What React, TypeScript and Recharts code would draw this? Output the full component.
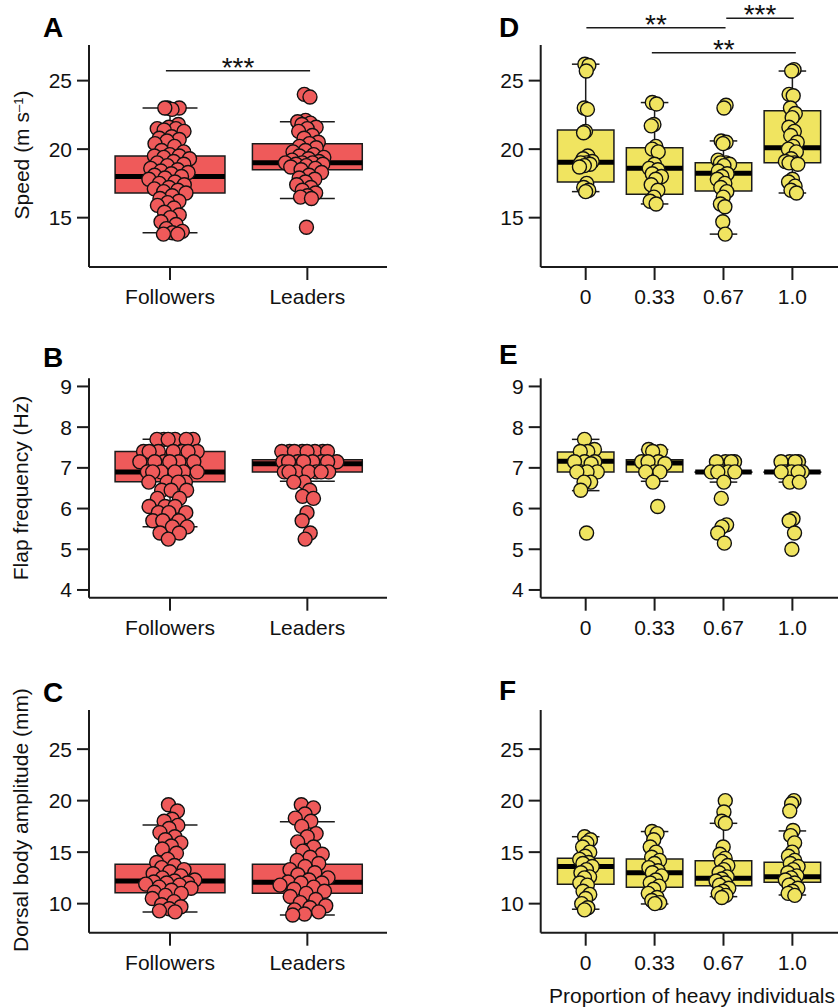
import React from "react";
import {
  ComposedChart,
  XAxis,
  YAxis,
  Scatter,
  ReferenceArea,
  ReferenceLine,
} from "recharts";

const FONT = "'Liberation Sans', Arial, Helvetica, sans-serif";
const RED = "#EF5A5A";
const YELLOW = "#F0E460";
const INK = "#1b1b1b";

// categories
const roleCats = ["Followers", "Leaders"];
const heavyCats = ["0", "0.33", "0.67", "1.0"];

// tick values
const speedTicks = [15, 20, 25];
const flapTicks = [4, 5, 6, 7, 8, 9];
const ampTicks = [10, 15, 20, 25];

// speed (m s-1), panel A
const speedFollowers = [
  23.0, 23.0, 22.9, 23.0, 21.8, 21.6, 21.5, 21.5, 21.4, 21.3, 20.9, 20.8, 20.7,
  20.6, 20.4, 20.2, 19.9, 19.8, 19.6, 19.5, 19.5, 19.4, 19.3, 19.1, 19.0, 18.9,
  18.8, 18.6, 18.5, 18.4, 18.3, 18.2, 18.1, 18.0, 17.9, 17.8, 17.6, 17.5, 17.4,
  17.2, 17.1, 17.0, 16.9, 16.8, 16.6, 16.4, 16.2, 16.1, 15.9, 15.7, 15.4, 15.2,
  15.0, 14.7, 14.5, 14.2, 14.0, 13.9, 13.8, 13.8,
];
const speedLeaders = [
  24.0, 23.8, 22.1, 22.0, 21.9, 21.8, 21.6, 21.5, 21.3, 21.0, 20.8, 20.5, 20.4,
  20.2, 20.1, 19.9, 19.8, 19.6, 19.5, 19.4, 19.3, 19.2, 19.1, 19.0, 19.0, 19.0,
  18.9, 18.9, 18.8, 18.7, 18.6, 18.5, 18.3, 18.1, 17.9, 17.8, 17.6, 17.4, 17.2,
  17.0, 16.8, 16.6, 16.5, 16.4, 14.3,
];
// speed, panel D
const speedH0 = [26.2, 26.1, 25.7, 23.0, 22.9, 21.3, 21.2, 19.5, 19.3, 19.1, 19.0, 19.0, 18.9, 18.8, 18.7, 17.5, 17.2, 17.0, 16.9];
const speedH33 = [23.4, 23.3, 21.8, 21.7, 20.2, 20.0, 19.8, 18.9, 18.6, 18.5, 18.2, 18.0, 17.8, 17.4, 17.0, 16.5, 16.2, 16.0];
const speedH67 = [23.2, 23.0, 20.6, 20.5, 20.4, 19.2, 19.0, 19.0, 18.9, 18.8, 18.4, 18.2, 18.0, 17.8, 17.5, 17.2, 16.9, 16.5, 16.0, 15.8, 14.7, 13.8];
const speedH100 = [25.8, 25.7, 24.0, 23.9, 23.0, 22.6, 22.3, 21.6, 21.3, 21.0, 20.5, 20.2, 20.0, 19.8, 19.3, 19.1, 19.0, 19.0, 18.9, 17.8, 17.6, 17.3, 17.0, 16.8];

// flap frequency (Hz), panel B
const flapFollowers = [
  7.7, 7.7, 7.7, 7.7, 7.7, 7.7, 7.4, 7.4, 7.4, 7.4, 7.4, 7.4, 7.4, 7.15, 7.15,
  7.15, 7.15, 7.15, 7.15, 6.9, 6.9, 6.9, 6.9, 6.9, 6.9, 6.65, 6.65, 6.65, 6.65,
  6.45, 6.45, 6.45, 6.25, 6.25, 6.05, 6.05, 6.05, 5.9, 5.9, 5.9, 5.7, 5.7, 5.7,
  5.55, 5.55, 5.4, 5.4, 5.25,
];
const flapLeaders = [
  7.4, 7.4, 7.4, 7.4, 7.4, 7.4, 7.4, 7.4, 7.15, 7.15, 7.15, 7.15, 7.15, 7.15,
  7.15, 7.15, 6.9, 6.9, 6.9, 6.9, 6.9, 6.9, 6.9, 6.65, 6.65, 6.45, 6.3, 6.25,
  5.9, 5.7, 5.4, 5.25,
];
// flap frequency, panel E
const flapH0 = [7.7, 7.45, 7.4, 7.4, 7.15, 7.15, 7.15, 7.1, 6.9, 6.9, 6.9, 6.9, 6.65, 6.65, 6.45, 5.4];
const flapH33 = [7.45, 7.4, 7.4, 7.15, 7.15, 7.15, 7.1, 6.9, 6.9, 6.9, 6.65, 6.05];
const flapH67 = [7.15, 7.15, 7.15, 7.15, 6.9, 6.9, 6.9, 6.9, 6.9, 6.65, 6.25, 5.6, 5.55, 5.4, 5.15];
const flapH100 = [7.15, 7.15, 7.15, 7.15, 6.9, 6.9, 6.9, 6.9, 6.9, 6.65, 6.65, 5.75, 5.7, 5.4, 5.0];

// dorsal body amplitude (mm), panel C
const ampFollowers = [
  19.6, 19.0, 18.2, 18.0, 17.6, 17.3, 16.9, 16.5, 16.2, 15.9, 15.6, 15.3, 14.9,
  14.3, 14.0, 13.7, 13.5, 13.3, 13.1, 12.9, 12.7, 12.5, 12.3, 12.2, 12.1, 12.0,
  12.0, 11.9, 11.8, 11.6, 11.5, 11.3, 11.1, 11.0, 10.8, 10.5, 10.2, 9.9, 9.7,
  9.5, 9.3, 9.2,
];
const ampLeaders = [
  19.6, 19.3, 18.7, 18.3, 18.0, 17.5, 16.8, 16.5, 16.0, 15.5, 15.1, 14.8, 14.5,
  14.2, 13.9, 13.6, 13.3, 13.0, 12.8, 12.5, 12.3, 12.1, 12.0, 12.0, 11.8, 11.6,
  11.4, 11.2, 11.0, 10.7, 10.4, 10.1, 9.8, 9.6, 9.4, 9.2, 9.0, 8.9,
];
// amplitude, panel F
const ampH0 = [16.5, 16.2, 15.9, 15.5, 15.0, 14.6, 14.3, 14.0, 13.9, 13.6, 13.3, 13.0, 12.6, 12.5, 12.0, 11.8, 11.2, 10.9, 10.5, 10.0, 9.6, 9.4];
const ampH33 = [17.0, 16.8, 16.2, 15.5, 15.0, 14.5, 14.2, 13.9, 13.5, 13.2, 13.0, 12.7, 12.3, 12.0, 11.7, 11.4, 11.0, 10.6, 10.3, 10.1, 10.0];
const ampH67 = [20.0, 18.9, 18.0, 17.8, 15.5, 14.8, 14.4, 14.1, 13.7, 13.3, 13.0, 12.6, 12.4, 12.2, 12.0, 11.8, 11.5, 11.2, 11.0, 10.8, 10.6];
const ampH100 = [20.0, 19.7, 19.0, 17.1, 16.6, 15.9, 15.0, 14.6, 14.2, 13.9, 13.6, 13.3, 13.0, 12.7, 12.5, 12.3, 12.0, 11.8, 11.5, 11.2, 11.0, 10.8];

// box stats per group: [low whisker, q1, median, q3, high whisker]
const speedRoleBoxes = [
  [13.9, 16.8, 18.0, 19.5, 23.0],
  [16.4, 18.5, 19.0, 20.4, 22.0],
];
const speedHeavyBoxes = [
  [16.9, 17.6, 19.05, 21.4, 26.2],
  [16.0, 16.7, 18.6, 20.1, 23.4],
  [13.8, 16.95, 18.25, 19.0, 20.6],
  [16.8, 19.0, 20.1, 22.8, 25.7],
];
const flapRoleBoxes = [
  [5.55, 6.66, 6.9, 7.4, 7.7],
  [6.67, 6.9, 7.1, 7.2, 7.41],
];
const flapHeavyBoxes = [
  [6.44, 6.9, 7.16, 7.39, 7.7],
  [6.67, 6.9, 7.12, 7.2, 7.45],
  [6.65, 6.89, 6.9, 6.9, 7.15],
  [6.65, 6.89, 6.9, 6.9, 7.15],
];
const ampRoleBoxes = [
  [9.2, 11.07, 12.2, 13.83, 17.64],
  [8.9, 11.0, 12.08, 13.83, 17.96],
];
const ampHeavyBoxes = [
  [9.46, 11.88, 13.6, 14.4, 16.5],
  [9.97, 11.59, 13.0, 14.34, 17.0],
  [10.68, 11.75, 12.47, 14.17, 17.8],
  [10.84, 12.08, 12.62, 14.02, 17.06],
];

// significance brackets: from, to (category units), y, label
const speedRoleSig = [{ from: -0.03, to: 1.02, y: 25.73, label: "***" }];
const speedHeavySig = [
  { from: 0.01, to: 2.03, y: 28.86, label: "**" },
  { from: 2.04, to: 3.02, y: 29.56, label: "***" },
  { from: 0.96, to: 3.05, y: 27.03, label: "**" },
];

type Sig = { from: number; to: number; y: number; label: string };

// quasi-random horizontal spread, scaled by local density (beeswarm-like)
const spread = (i: number) => ((i * 0.6180339887 + 0.37) % 1) * 2 - 1;
const density = (vals: number[], v: number, h: number) =>
  vals.reduce((s, u) => s + Math.exp(-0.5 * ((v - u) / h) ** 2), 0);

interface PanelProps {
  left: number;
  top: number;
  width: number;
  height: number;
  margin: { top: number; right: number; bottom: number; left: number };
  xDomain: [number, number];
  yDomain: [number, number];
  yTicks: number[];
  cats: string[];
  groups: number[][];
  boxes: number[][];
  color: string;
  boxHalf: number;
  jitterW: number;
  sigs?: Sig[];
}

const Panel: React.FC<PanelProps> = ({
  left,
  top,
  width,
  height,
  margin,
  xDomain,
  yDomain,
  yTicks,
  cats,
  groups,
  boxes,
  color,
  boxHalf,
  jitterW,
  sigs = [],
}) => {
  const bw = (yDomain[1] - yDomain[0]) * 0.03;
  const points = groups.flatMap((vals, g) => {
    const dens = vals.map((v) => density(vals, v, bw));
    const maxD = Math.max(...dens);
    return vals.map((v, i) => ({
      x: g + spread(i + g * 11) * jitterW * (0.08 + 0.92 * (dens[i] / maxD)),
      y: v,
    }));
  });
  const capHalf = 0.2;
  const tickStyle = { fontSize: 21, fill: "#111", fontFamily: FONT };

  return (
    <div style={{ position: "absolute", left, top }}>
      <ComposedChart width={width} height={height} margin={margin}>
        <XAxis
          type="number"
          dataKey="x"
          domain={xDomain}
          allowDataOverflow
          ticks={cats.map((_, i) => i)}
          tickFormatter={(v: number) => cats[v]}
          height={50}
          tickSize={13}
          tickMargin={9}
          tick={tickStyle}
          axisLine={{ stroke: INK, strokeWidth: 2 }}
          tickLine={{ stroke: INK, strokeWidth: 2 }}
        />
        <YAxis
          type="number"
          dataKey="y"
          domain={yDomain}
          allowDataOverflow
          ticks={yTicks}
          width={60}
          tickSize={12}
          tickMargin={5}
          tick={tickStyle}
          axisLine={{ stroke: INK, strokeWidth: 2 }}
          tickLine={{ stroke: INK, strokeWidth: 2 }}
        />
        {boxes.map(([lo, q1, , q3, hi], g) => (
          <ReferenceLine
            key={`wu-${g}`}
            segment={[{ x: g, y: q3 }, { x: g, y: hi }]}
            stroke={INK}
            strokeWidth={1.5}
          />
        ))}
        {boxes.map(([lo, q1], g) => (
          <ReferenceLine
            key={`wl-${g}`}
            segment={[{ x: g, y: lo }, { x: g, y: q1 }]}
            stroke={INK}
            strokeWidth={1.5}
          />
        ))}
        {boxes.map(([, , , , hi], g) => (
          <ReferenceLine
            key={`cu-${g}`}
            segment={[{ x: g - capHalf, y: hi }, { x: g + capHalf, y: hi }]}
            stroke={INK}
            strokeWidth={1.5}
          />
        ))}
        {boxes.map(([lo], g) => (
          <ReferenceLine
            key={`cl-${g}`}
            segment={[{ x: g - capHalf, y: lo }, { x: g + capHalf, y: lo }]}
            stroke={INK}
            strokeWidth={1.5}
          />
        ))}
        {boxes.map(([, q1, , q3], g) => (
          <ReferenceArea
            key={`box-${g}`}
            x1={g - boxHalf}
            x2={g + boxHalf}
            y1={q1}
            y2={q3}
            fill={color}
            fillOpacity={1}
            stroke={INK}
            strokeWidth={1.5}
          />
        ))}
        {boxes.map(([, , med], g) => (
          <ReferenceLine
            key={`med-${g}`}
            segment={[{ x: g - boxHalf, y: med }, { x: g + boxHalf, y: med }]}
            stroke="#000"
            strokeWidth={5}
          />
        ))}
        {sigs.map((s, i) => (
          <ReferenceLine
            key={`sig-${i}`}
            segment={[{ x: s.from, y: s.y }, { x: s.to, y: s.y }]}
            stroke={INK}
            strokeWidth={1.5}
            ifOverflow="visible"
            label={{
              value: s.label,
              position: "top",
              offset: -6,
              fontSize: 28,
              fill: "#111",
              fontFamily: FONT,
            }}
          />
        ))}
        <Scatter
          data={points}
          dataKey="y"
          isAnimationActive={false}
          shape={(p: any) => (
            <circle
              cx={p.cx}
              cy={p.cy}
              r={7}
              fill={color}
              stroke="#111"
              strokeWidth={1.4}
            />
          )}
        />
      </ComposedChart>
    </div>
  );
};

const letterStyle = (left: number, top: number): React.CSSProperties => ({
  position: "absolute",
  left,
  top,
  fontFamily: FONT,
  fontWeight: 700,
  fontSize: 28,
  lineHeight: 1,
  color: "#000",
});

const yTitleStyle = (cx: number, cy: number): React.CSSProperties => ({
  position: "absolute",
  left: cx,
  top: cy,
  transform: "translate(-50%, -50%) rotate(-90deg)",
  whiteSpace: "nowrap",
  fontFamily: FONT,
  fontSize: 21,
  lineHeight: 1,
  color: "#111",
});

const roleX: [number, number] = [-0.59, 1.58];
const heavyX: [number, number] = [-0.653, 3.662];
const leftMargin = (top: number, bottom: number) => ({ top, right: 33, bottom, left: 29 });
const rightMargin = (top: number, bottom: number) => ({ top, right: 0, bottom, left: 60.7 });

export default function App() {
  return (
    <div
      style={{
        position: "absolute",
        left: 0,
        top: 0,
        width: 838,
        height: 1007,
        overflow: "hidden",
        background: "#fff",
      }}
    >
      <Panel
        left={0}
        top={0}
        width={420}
        height={330}
        margin={leftMargin(45, 13)}
        xDomain={roleX}
        yDomain={[11.4, 27.6]}
        yTicks={speedTicks}
        cats={roleCats}
        groups={[speedFollowers, speedLeaders]}
        boxes={speedRoleBoxes}
        color={RED}
        boxHalf={0.4}
        jitterW={0.16}
        sigs={speedRoleSig}
      />
      <Panel
        left={420}
        top={0}
        width={418}
        height={330}
        margin={rightMargin(45, 13)}
        xDomain={heavyX}
        yDomain={[11.4, 27.6]}
        yTicks={speedTicks}
        cats={heavyCats}
        groups={[speedH0, speedH33, speedH67, speedH100]}
        boxes={speedHeavyBoxes}
        color={YELLOW}
        boxHalf={0.41}
        jitterW={0.11}
        sigs={speedHeavySig}
      />
      <Panel
        left={0}
        top={330}
        width={420}
        height={330}
        margin={leftMargin(48.3, 12.3)}
        xDomain={roleX}
        yDomain={[3.81, 9.2]}
        yTicks={flapTicks}
        cats={roleCats}
        groups={[flapFollowers, flapLeaders]}
        boxes={flapRoleBoxes}
        color={RED}
        boxHalf={0.4}
        jitterW={0.23}
      />
      <Panel
        left={420}
        top={330}
        width={418}
        height={330}
        margin={rightMargin(48.3, 12.3)}
        xDomain={heavyX}
        yDomain={[3.81, 9.2]}
        yTicks={flapTicks}
        cats={heavyCats}
        groups={[flapH0, flapH33, flapH67, flapH100]}
        boxes={flapHeavyBoxes}
        color={YELLOW}
        boxHalf={0.41}
        jitterW={0.2}
      />
      <Panel
        left={0}
        top={660}
        width={420}
        height={347}
        margin={leftMargin(50, 24.3)}
        xDomain={roleX}
        yDomain={[7.18, 28.8]}
        yTicks={ampTicks}
        cats={roleCats}
        groups={[ampFollowers, ampLeaders]}
        boxes={ampRoleBoxes}
        color={RED}
        boxHalf={0.4}
        jitterW={0.2}
      />
      <Panel
        left={420}
        top={660}
        width={418}
        height={347}
        margin={rightMargin(50, 24.3)}
        xDomain={heavyX}
        yDomain={[7.18, 28.8]}
        yTicks={ampTicks}
        cats={heavyCats}
        groups={[ampH0, ampH33, ampH67, ampH100]}
        boxes={ampHeavyBoxes}
        color={YELLOW}
        boxHalf={0.41}
        jitterW={0.11}
      />

      <div style={letterStyle(43, 14.3)}>A</div>
      <div style={letterStyle(499, 14.3)}>D</div>
      <div style={letterStyle(43, 344.3)}>B</div>
      <div style={letterStyle(499, 341.3)}>E</div>
      <div style={letterStyle(43, 679.3)}>C</div>
      <div style={letterStyle(499, 677.3)}>F</div>

      <div style={yTitleStyle(21, 155)}>
        Speed (m s<sup style={{ fontSize: 13, verticalAlign: "6px" }}>–1</sup>)
      </div>
      <div style={yTitleStyle(20, 488)}>Flap frequency (Hz)</div>
      <div style={yTitleStyle(20, 820)}>Dorsal body amplitude (mm)</div>
      <div
        style={{
          position: "absolute",
          left: 549,
          top: 985.3,
          whiteSpace: "nowrap",
          fontFamily: FONT,
          fontSize: 21,
          lineHeight: 1,
          color: "#111",
        }}
      >
        Proportion of heavy individuals
      </div>
    </div>
  );
}
